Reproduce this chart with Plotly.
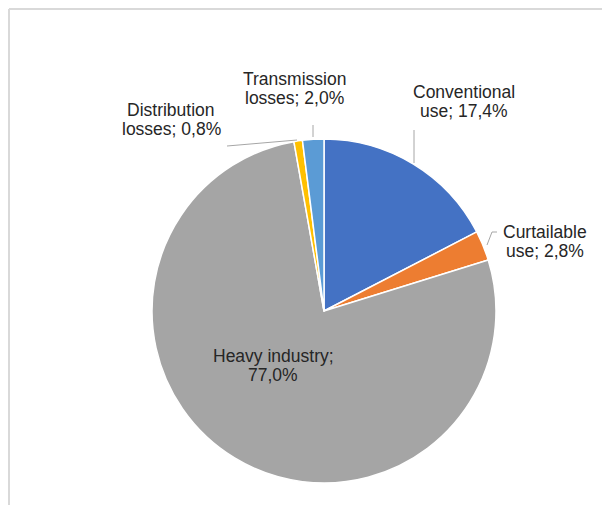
import plotly.graph_objects as go

labels = ["Conventional use", "Curtailable use", "Heavy industry", "Distribution losses", "Transmission losses"]
values = [17.4, 2.8, 77.0, 0.8, 2.0]
colors = ["#4472C4", "#ED7D31", "#A5A5A5", "#FFC000", "#5B9BD5"]

OFF = 8  # default page body margin in the written html
W, H = 610 - OFF, 505 - OFF


def px(x, y):
    return (x - OFF) / W, 1 - (y - OFF) / H


def fmt(v):
    return f"{v:.1f}".replace(".", ",") + "%"


cx, cy, r = 324, 311, 172
x0, y0 = px(cx - r, cy + r)
x1, y1 = px(cx + r, cy - r)

fig = go.Figure(go.Pie(
    labels=labels, values=values, sort=False, direction="clockwise", rotation=0,
    marker=dict(colors=colors, line=dict(color="white", width=1.5)),
    textinfo="none", hoverinfo="label+percent", showlegend=False,
    domain=dict(x=[x0, x1], y=[y0, y1]),
))

lab_pos = {
    "Conventional use": (464, 92, 111),
    "Curtailable use": (545, 232, 251),
    "Heavy industry": (273, 356, 375),
    "Distribution losses": (171, 110, 129),
    "Transmission losses": (294, 79, 98),
}
ann = []
for lab, v in zip(labels, values):
    words = lab.split(" ")
    l1 = words[0]
    l2 = words[1] + "; " + fmt(v)
    if lab == "Heavy industry":
        l1 = lab + ";"
        l2 = fmt(v)
    xc, ya, yb = lab_pos[lab]
    for t, yy in ((l1, ya), (l2, yb)):
        ax, ay = px(xc, yy)
        ann.append(dict(x=ax, y=ay, xref="paper", yref="paper", text=t, showarrow=False,
                        xanchor="center", yanchor="middle",
                        font=dict(family="Liberation Sans, Arial, sans-serif", size=17.5, color="#262626")))

shapes = []
for (a, b, c, d) in [(9, 9, 612, 9), (9, 9, 9, 507)]:
    p, q = px(a, b)
    s, t = px(c, d)
    shapes.append(dict(type="line", xref="paper", yref="paper", x0=p, y0=q, x1=s, y1=t,
                       line=dict(color="#D9D9D9", width=2)))
leaders = [
    [(414, 130), (414, 163)],
    [(497, 232), (492, 232), (487, 245)],
    [(227, 146), (297, 140)],
    [(313, 125), (313, 137)],
]
for pts in leaders:
    for (a, b), (c, d) in zip(pts[:-1], pts[1:]):
        p, q = px(a, b)
        s, t = px(c, d)
        shapes.append(dict(type="line", xref="paper", yref="paper", x0=p, y0=q, x1=s, y1=t,
                           line=dict(color="#A6A6A6", width=1)))

fig.update_layout(width=W, height=H, margin=dict(l=0, r=0, t=0, b=0),
                  paper_bgcolor="white", plot_bgcolor="white",
                  annotations=ann, shapes=shapes)
fig.write_html("out.html")
